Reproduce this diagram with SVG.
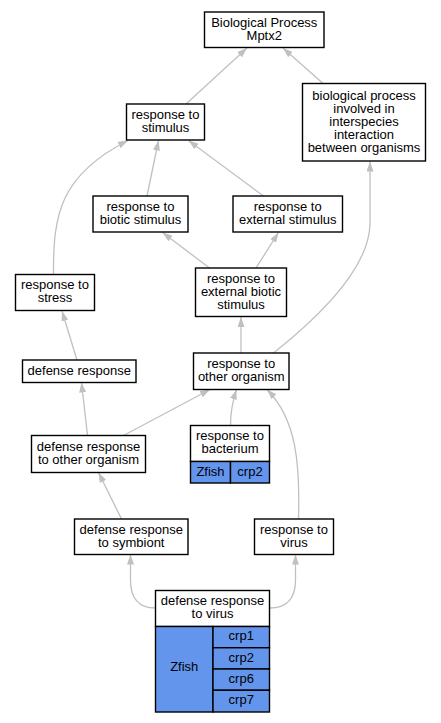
<svg xmlns="http://www.w3.org/2000/svg" width="441" height="723" viewBox="0 0 441 723">
<defs>
<marker id="arr" viewBox="0 0 10 7" markerWidth="10" markerHeight="7" refX="10" refY="3.5" orient="auto" markerUnits="userSpaceOnUse">
<polygon points="0,0 10,3.5 0,7" fill="#c0c0c0"/>
</marker>
<style>
.n rect{fill:#fff;stroke:#000;stroke-width:1.4}
.n rect.b{fill:#6495ed}
.n text{font-family:"Liberation Sans",Arial,sans-serif;font-size:13px;text-anchor:middle;fill:#000}
#edges path{fill:none;stroke:#c0c0c0;stroke-width:1.3;marker-end:url(#arr)}
</style>
</defs>
<rect width="441" height="723" fill="#fff"/>
<g id="edges">
<path d="M186,104 L247,48"/>
<path d="M323,83.5 L283,48"/>
<path d="M147,196 L158.5,140.5"/>
<path d="M263.5,196 L188.5,140.5"/>
<path d="M53.5,274 C53,215 60,175 128,140.5"/>
<path d="M209.5,268 L162.5,232.5"/>
<path d="M256,268 L278.5,232.5"/>
<path d="M241,353 L241,317"/>
<path d="M273.5,353 C305,328 368,275 370,225 L370,161.5"/>
<path d="M77,360 L62,311"/>
<path d="M87.5,435.5 L81.5,382.5"/>
<path d="M123.5,435.5 L210,389.5"/>
<path d="M230.5,425.5 C230.5,410 233,400 236.5,389.5"/>
<path d="M298.5,519 C300,465 297,420 267,389.5"/>
<path d="M121.5,519 L98.5,472.5"/>
<path d="M155.5,608 C140,608 130.5,600 130.5,580 L130.5,554.5"/>
<path d="M269.5,608 C285,608 295.5,600 295.5,580 L295.5,554.5"/>
</g>
<g id="bp" class="n"><rect x="204.5" y="12" width="119.5" height="35.5"/><text x="264.25" y="27">Biological Process</text><text x="264.25" y="40">Mptx2</text></g>
<g id="bioint" class="n"><rect x="302.5" y="83.5" width="123" height="77.5"/><text x="364" y="99.6">biological process</text><text x="364" y="112.8">involved in</text><text x="364" y="126">interspecies</text><text x="364" y="139.2">interaction</text><text x="364" y="152.4">between organisms</text></g>
<g id="stimulus" class="n"><rect x="126.5" y="104" width="78" height="36"/><text x="165.5" y="118.8">response to</text><text x="165.5" y="131.8">stimulus</text></g>
<g id="biotic" class="n"><rect x="93" y="196" width="95" height="36"/><text x="140.5" y="210.8">response to</text><text x="140.5" y="223.8">biotic stimulus</text></g>
<g id="extstim" class="n"><rect x="233" y="196" width="109.5" height="36"/><text x="287.75" y="210.8">response to</text><text x="287.75" y="223.8">external stimulus</text></g>
<g id="stress" class="n"><rect x="15.5" y="274.5" width="79" height="36"/><text x="55" y="289.3">response to</text><text x="55" y="302.3">stress</text></g>
<g id="extbiotic" class="n"><rect x="195.5" y="268" width="91" height="48.5"/><text x="241" y="282.8">response to</text><text x="241" y="296">external biotic</text><text x="241" y="309.2">stimulus</text></g>
<g id="defense" class="n"><rect x="22.5" y="360" width="113.5" height="22.5"/><text x="79.25" y="375">defense response</text></g>
<g id="other" class="n"><rect x="193.5" y="353" width="95.5" height="36.5"/><text x="241.25" y="368.2">response to</text><text x="241.25" y="381.2">other organism</text></g>
<g id="dro" class="n"><rect x="31.5" y="435.5" width="114" height="37"/><text x="88.5" y="450.8">defense response</text><text x="88.5" y="463.8">to other organism</text></g>
<g id="bacterium" class="n"><rect x="190.5" y="425.5" width="79" height="36"/><text x="230" y="440.3">response to</text><text x="230" y="453.3">bacterium</text><rect class="b" x="190.5" y="461.5" width="40" height="21.5"/><rect class="b" x="230.5" y="461.5" width="39" height="21.5"/><text x="210.5" y="475.5">Zfish</text><text x="250" y="475.5">crp2</text></g>
<g id="symbiont" class="n"><rect x="74.5" y="519" width="113.5" height="35.5"/><text x="131.25" y="533.5">defense response</text><text x="131.25" y="546.5">to symbiont</text></g>
<g id="virus" class="n"><rect x="254.5" y="519" width="79" height="35.5"/><text x="294" y="533.5">response to</text><text x="294" y="546.5">virus</text></g>
<g id="dvirus" class="n"><rect x="155.5" y="590.5" width="114" height="36"/><text x="212.5" y="605">defense response</text><text x="212.5" y="618">to virus</text><rect class="b" x="155.5" y="626.5" width="57.5" height="85.5"/><rect class="b" x="213" y="626.5" width="56.5" height="21.25"/><rect class="b" x="213" y="647.75" width="56.5" height="21.25"/><rect class="b" x="213" y="669" width="56.5" height="21.25"/><rect class="b" x="213" y="690.25" width="56.5" height="21.75"/><text x="184.25" y="671.3">Zfish</text><text x="241.25" y="640.2">crp1</text><text x="241.25" y="661.5">crp2</text><text x="241.25" y="682.7">crp6</text><text x="241.25" y="704.2">crp7</text></g>
</svg>
